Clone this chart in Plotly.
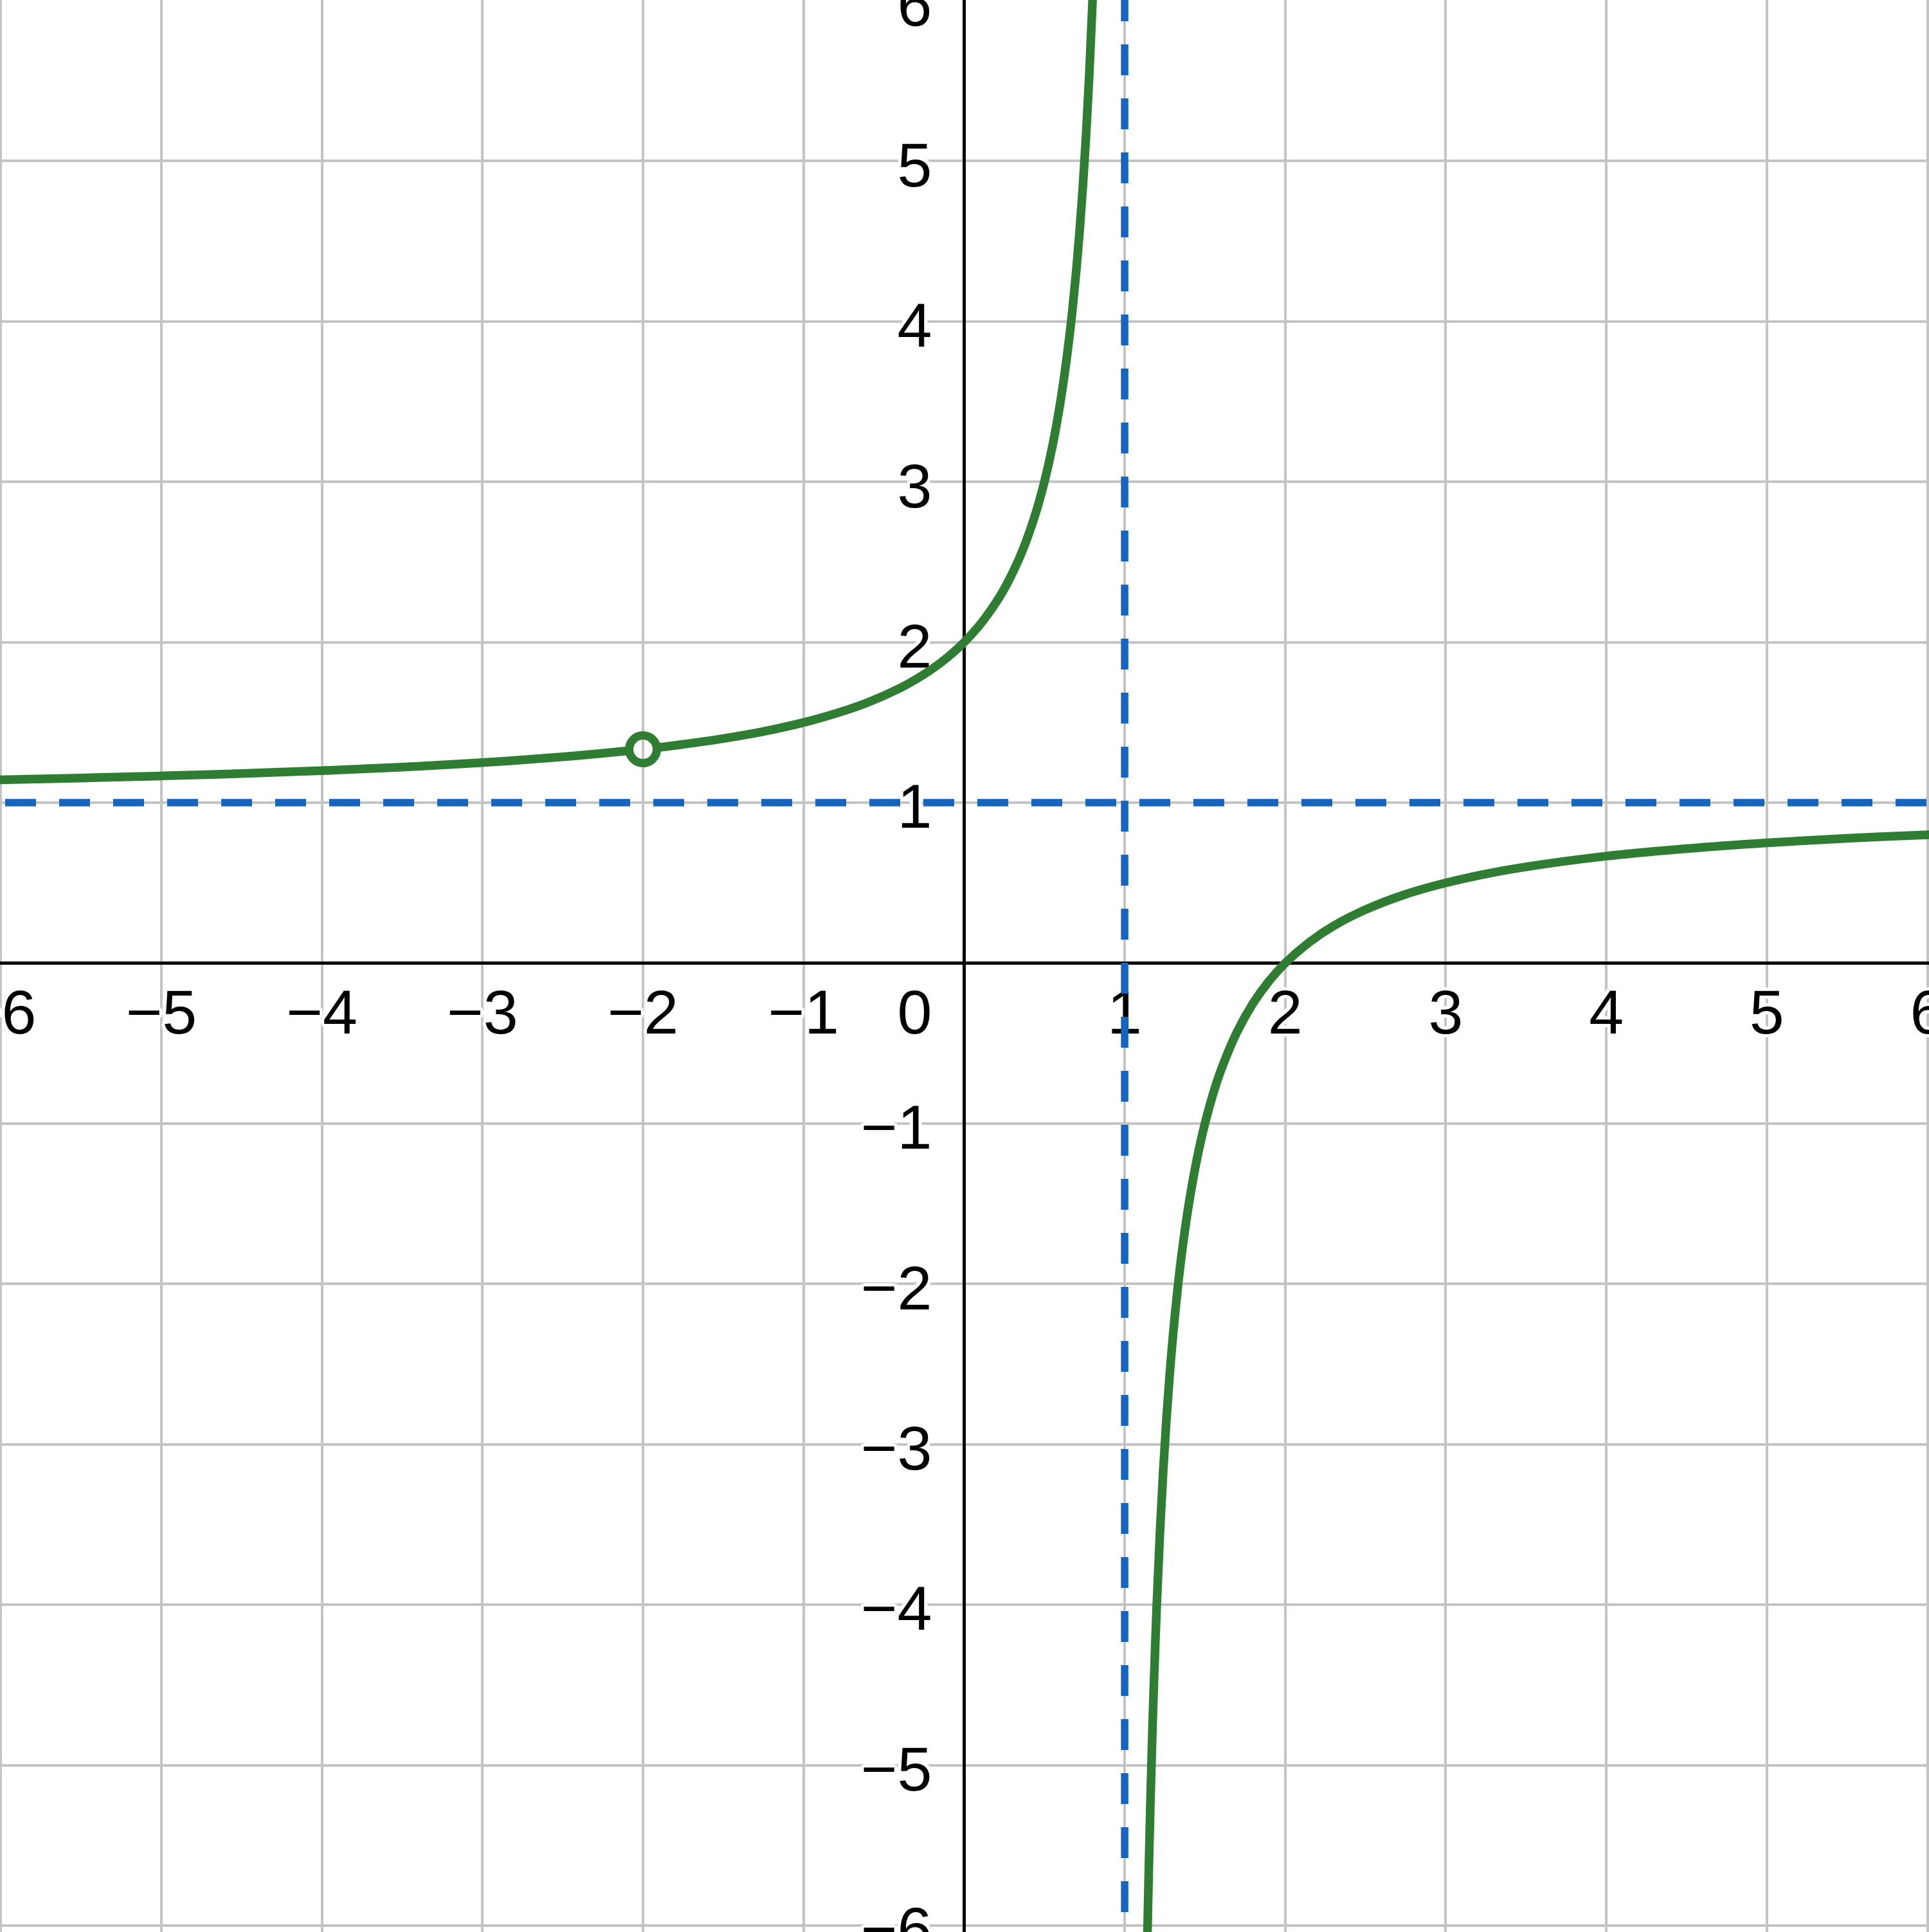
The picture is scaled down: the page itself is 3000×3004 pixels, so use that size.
import plotly.graph_objects as go

# Tick values and labels
x_ticks = [-6, -5, -4, -3, -2, -1, 1, 2, 3, 4, 5, 6]
x_tick_labels = ["−6", "−5", "−4", "−3", "−2", "−1", "1", "2", "3", "4", "5", "6"]
y_ticks = [-6, -5, -4, -3, -2, -1, 1, 2, 3, 4, 5, 6]
y_tick_labels = ["−6", "−5", "−4", "−3", "−2", "−1", "1", "2", "3", "4", "5", "6"]
origin_label = "0"

# Curve points (left branch, with a break at the hole)
left_x = [-6.05, -6.0, -5.5, -5.0, -4.5, -4.0, -3.5, -3.0, -2.75, -2.5, -2.25, -2.08, None,
          -1.92, -1.75, -1.5, -1.25, -1.0, -0.8, -0.6, -0.4, -0.3, -0.2, -0.1, 0.0,
          0.1, 0.2, 0.25, 0.3, 0.35, 0.4, 0.45, 0.5, 0.55, 0.6, 0.63, 0.66, 0.68, 0.7,
          0.72, 0.74, 0.76, 0.78, 0.8, 0.82]
left_y = [1.142, 1.143, 1.154, 1.167, 1.182, 1.2, 1.222, 1.25, 1.267, 1.286, 1.308, 1.325, None,
          1.342, 1.364, 1.4, 1.444, 1.5, 1.556, 1.625, 1.714, 1.769, 1.833, 1.909, 2.0,
          2.111, 2.25, 2.333, 2.429, 2.538, 2.667, 2.818, 3.0, 3.222, 3.5, 3.703, 3.941, 4.125, 4.333,
          4.571, 4.846, 5.167, 5.545, 6.0, 6.556]
# Right branch
right_x = [1.13, 1.14, 1.15, 1.16, 1.17, 1.18, 1.2, 1.22, 1.24, 1.26, 1.28, 1.3, 1.33, 1.36,
           1.4, 1.45, 1.5, 1.55, 1.6, 1.7, 1.8, 1.9, 2.0, 2.15, 2.3, 2.5, 2.75, 3.0, 3.25,
           3.5, 4.0, 4.5, 5.0, 5.5, 6.0, 6.05]
right_y = [-6.692, -6.143, -5.667, -5.25, -4.882, -4.556, -4.0, -3.545, -3.167, -2.846, -2.571,
           -2.333, -2.030, -1.778, -1.5, -1.222, -1.0, -0.818, -0.667, -0.429, -0.25, -0.111,
           0.0, 0.130, 0.231, 0.333, 0.429, 0.5, 0.556, 0.6, 0.667, 0.714, 0.75, 0.778, 0.8, 0.802]
# Hole (open circle)
hole_x = [-2.0]
hole_y = [1.333]
# Asymptotes
v_asym_x = 1.0
h_asym_y = 1.0

GREEN = "#2e7d32"
BLUE = "#1565c0"
GRID = "#c4c4c4"
FONT = "Liberation Sans, Arial, sans-serif"

W, H = 3000, 3004
XR = [-6.005, 6.01]
YR = [-6.04, 6.004]
px_x = (XR[1] - XR[0]) / W
px_y = (YR[1] - YR[0]) / H

halo = ("white 5px 0px 0px, white -5px 0px 0px, white 0px 5px 0px, white 0px -5px 0px, "
        "white 4px 4px 0px, white -4px -4px 0px, white 4px -4px 0px, white -4px 4px 0px")

fig = go.Figure()

# x tick labels (below axis)
fig.add_trace(go.Scatter(
    x=x_ticks, y=[-85 * px_y] * len(x_ticks), text=x_tick_labels,
    mode="text", textposition="middle center", hoverinfo="skip",
    textfont=dict(family=FONT, size=97, color="black", shadow=halo),
    showlegend=False))
# y tick labels (left of axis)
fig.add_trace(go.Scatter(
    x=[-50 * px_x] * len(y_ticks), y=[v - 15 * px_y for v in y_ticks], text=y_tick_labels,
    mode="text", textposition="middle left", hoverinfo="skip",
    textfont=dict(family=FONT, size=97, color="black", shadow=halo),
    showlegend=False))
# origin label
fig.add_trace(go.Scatter(
    x=[-50 * px_x], y=[-85 * px_y], text=[origin_label],
    mode="text", textposition="middle left", hoverinfo="skip",
    textfont=dict(family=FONT, size=97, color="black", shadow=halo),
    showlegend=False))

# asymptotes
fig.add_trace(go.Scatter(x=[XR[0] + 8 * px_x, XR[1]], y=[h_asym_y, h_asym_y], mode="lines",
                         line=dict(color=BLUE, width=11.5, dash="48px,36px"),
                         hoverinfo="skip", showlegend=False))
fig.add_trace(go.Scatter(x=[v_asym_x, v_asym_x], y=[YR[1] + 15 * px_y, YR[0]], mode="lines",
                         line=dict(color=BLUE, width=11.5, dash="48px,36px"),
                         hoverinfo="skip", showlegend=False))

# curve
fig.add_trace(go.Scatter(x=left_x, y=left_y, mode="lines",
                         line=dict(color=GREEN, width=13.5, shape="spline", smoothing=1.0),
                         connectgaps=False, hoverinfo="skip", showlegend=False))
fig.add_trace(go.Scatter(x=right_x, y=right_y, mode="lines",
                         line=dict(color=GREEN, width=13.5, shape="spline", smoothing=1.0),
                         hoverinfo="skip", showlegend=False))
fig.add_trace(go.Scatter(x=hole_x, y=hole_y, mode="markers",
                         marker=dict(symbol="circle-open", size=43, color=GREEN,
                                     line=dict(color=GREEN, width=13)),
                         hoverinfo="skip", showlegend=False))

axis_common = dict(showgrid=True, gridcolor=GRID, gridwidth=4, dtick=1, tick0=0,
                   zeroline=True, zerolinecolor="black", zerolinewidth=5,
                   showticklabels=False, ticks="", showline=False, fixedrange=True)
fig.update_layout(
    width=W, height=H, margin=dict(l=0, r=0, t=0, b=0),
    paper_bgcolor="white", plot_bgcolor="white",
    xaxis=dict(range=XR, **axis_common),
    yaxis=dict(range=YR, **axis_common),
)

fig.write_html("out.html", config={"displayModeBar": False},
               post_script="document.body.style.margin='0';document.body.style.padding='0';")
